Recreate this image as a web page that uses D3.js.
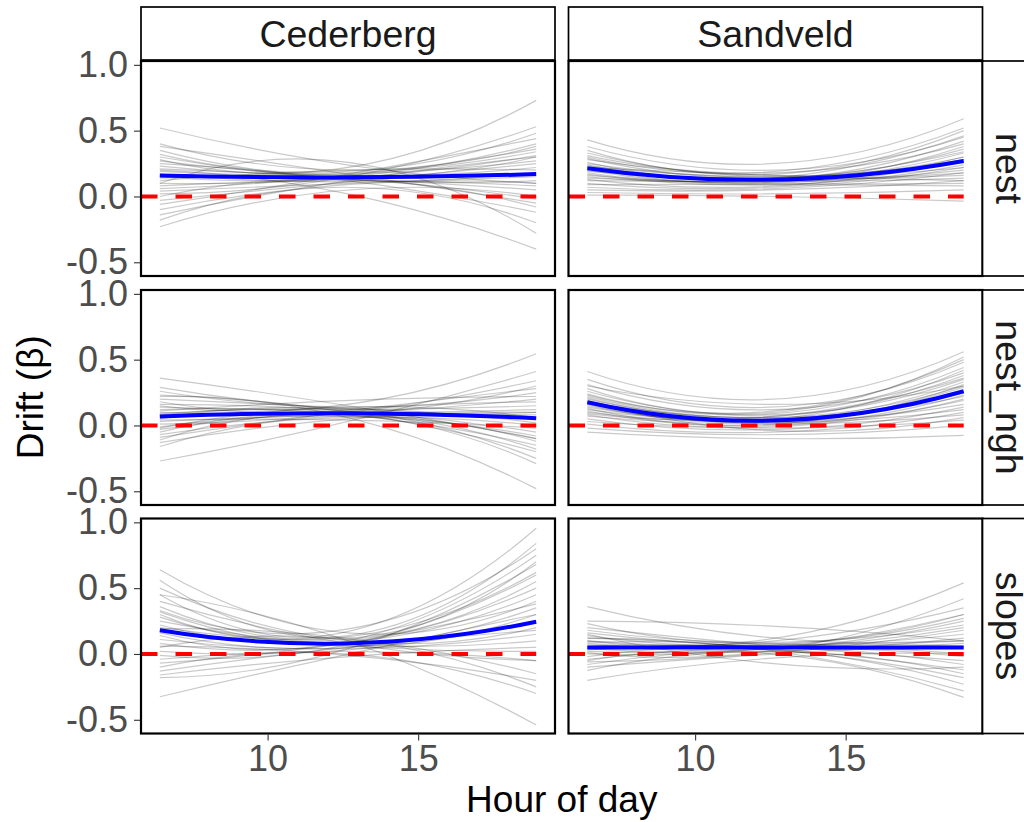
<!DOCTYPE html>
<html lang="en">
<head>
<meta charset="utf-8">
<title>Drift by hour of day</title>
<script src="https://d3js.org/d3.v7.min.js"></script>
<style type="text/css">
	body { margin: 0; background: #fff; }
	svg text { font-family: "Liberation Sans", Arial, sans-serif; }
	.axis path { display: none; }
	.axis line { stroke: #333; stroke-width: 1.1; }
	.axis text { fill: #4d4d4d; font-size: 36px; }
</style>
</head>
<body>
<script type="text/javascript">
// Facet categories
var sites = ["Cederberg", "Sandveld"];
var layers = ["nest", "nest_ngh", "slopes"];

// Hours covered by the curves (first and last)
var hourRange = [6.42, 18.92];

// Axis ticks
var xTicks = [10, 15];
var yTicks = [-0.5, 0, 0.5, 1.0];
var yTickLabels = ["-0.5", "0.0", "0.5", "1.0"];
var yRange = [-0.53, 0.955];

// Reference line
var refValue = 0;

// Mean curve per panel: [start, midday, end] (row-major: layer, then site)
var meanCurves = [
	[0.16, 0.145, 0.17],   // nest / Cederberg
	[0.215, 0.128, 0.27],  // nest / Sandveld
	[0.068, 0.093, 0.055], // nest_ngh / Cederberg
	[0.176, 0.038, 0.26],  // nest_ngh / Sandveld
	[0.18, 0.08, 0.245],   // slopes / Cederberg
	[0.05, 0.05, 0.05]     // slopes / Sandveld
];

// Posterior draws per panel: [start, midday, end]
var drawsCedNest = [
	[0.52, 0.24, 0.10], [0.40, 0.20, 0.38], [0.38, 0.17, -0.05], [0.35, 0.15, 0.30],
	[0.32, 0.19, 0.48], [0.30, 0.13, 0.12], [0.27, 0.16, 0.22], [0.25, 0.12, -0.12],
	[0.23, 0.18, 0.34], [0.21, 0.14, 0.05], [0.19, 0.17, 0.27], [0.17, 0.11, 0.18],
	[0.15, 0.15, 0.40], [0.14, 0.13, -0.02], [0.12, 0.20, 0.20], [0.10, 0.14, 0.31],
	[0.08, 0.12, 0.08], [0.06, 0.16, 0.36], [0.04, 0.10, 0.15], [0.02, 0.15, 0.53],
	[0.00, 0.13, -0.08], [-0.03, 0.11, 0.25], [-0.06, 0.17, 0.44], [-0.10, 0.09, 0.10],
	[-0.14, 0.12, 0.30], [-0.18, 0.07, -0.20], [-0.23, 0.05, 0.00], [0.28, 0.22, 0.73],
	[0.20, 0.02, -0.40], [0.10, 0.26, -0.28]
];
var drawsSanNest = [
	[0.43, 0.25, 0.59], [0.38, 0.20, 0.45], [0.35, 0.17, 0.50], [0.33, 0.15, 0.30],
	[0.31, 0.18, 0.40], [0.29, 0.14, 0.36], [0.28, 0.16, 0.22], [0.26, 0.13, 0.42],
	[0.25, 0.15, 0.28], [0.24, 0.12, 0.33], [0.23, 0.14, 0.18], [0.22, 0.11, 0.38],
	[0.21, 0.13, 0.26], [0.20, 0.10, 0.30], [0.19, 0.12, 0.14], [0.18, 0.14, 0.46],
	[0.17, 0.09, 0.24], [0.16, 0.11, 0.20], [0.15, 0.13, 0.34], [0.14, 0.10, 0.10],
	[0.13, 0.08, 0.28], [0.12, 0.12, 0.16], [0.10, 0.07, 0.22], [0.09, 0.09, 0.08],
	[0.07, 0.06, 0.18], [0.05, 0.05, 0.12], [0.03, 0.02, 0.05], [0.01, 0.00, -0.035],
	[0.30, 0.19, 0.52], [0.22, 0.16, 0.12]
];
var drawsCedNgh = [
	[0.36, 0.15, -0.10], [0.29, 0.12, 0.10], [0.26, 0.14, 0.25], [0.23, 0.10, -0.20],
	[0.20, 0.13, 0.05], [0.18, 0.09, 0.30], [0.16, 0.11, -0.05], [0.14, 0.12, 0.15],
	[0.12, 0.08, -0.15], [0.10, 0.10, 0.20], [0.08, 0.13, 0.02], [0.07, 0.09, 0.12],
	[0.05, 0.11, -0.25], [0.03, 0.08, 0.08], [0.01, 0.10, 0.34], [-0.01, 0.07, -0.08],
	[-0.03, 0.12, 0.18], [-0.05, 0.09, -0.18], [-0.07, 0.06, 0.00], [-0.09, 0.11, 0.28],
	[-0.11, 0.08, -0.29], [-0.13, 0.05, 0.10], [-0.16, 0.07, -0.12], [-0.27, 0.03, 0.41],
	[0.15, 0.16, 0.545], [0.22, 0.06, -0.48], [0.11, 0.19, 0.22], [0.04, 0.04, -0.02],
	[-0.02, 0.14, 0.06], [0.09, 0.10, -0.10]
];
var drawsSanNgh = [
	[0.41, 0.20, 0.56], [0.35, 0.14, 0.48], [0.31, 0.12, 0.40], [0.28, 0.10, 0.52],
	[0.26, 0.08, 0.35], [0.24, 0.09, 0.44], [0.22, 0.06, 0.30], [0.21, 0.07, 0.38],
	[0.20, 0.05, 0.26], [0.19, 0.04, 0.33], [0.18, 0.06, 0.22], [0.17, 0.03, 0.29],
	[0.16, 0.05, 0.42], [0.15, 0.02, 0.19], [0.14, 0.04, 0.25], [0.13, 0.01, 0.31],
	[0.12, 0.03, 0.16], [0.11, 0.00, 0.23], [0.10, 0.02, 0.12], [0.08, -0.01, 0.20],
	[0.07, 0.01, 0.08], [0.05, -0.03, 0.14], [0.03, -0.02, 0.04], [0.01, -0.05, 0.10],
	[-0.02, -0.07, 0.00], [-0.05, -0.10, -0.075], [0.30, 0.16, 0.30], [0.23, 0.11, 0.50],
	[0.09, 0.07, 0.36], [0.18, -0.04, 0.06]
];
var drawsCedSlopes = [
	[0.64, 0.16, 0.40], [0.56, 0.12, 0.70], [0.50, 0.10, 0.20], [0.45, 0.14, 0.84],
	[0.40, 0.08, -0.05], [0.36, 0.11, 0.55], [0.32, 0.06, 0.30], [0.28, 0.13, 0.62],
	[0.25, 0.07, 0.10], [0.22, 0.09, 0.45], [0.19, 0.12, -0.15], [0.16, 0.05, 0.35],
	[0.14, 0.10, 0.75], [0.11, 0.04, 0.15], [0.08, 0.08, 0.50], [0.05, 0.11, -0.25],
	[0.02, 0.03, 0.25], [-0.01, 0.07, 0.60], [-0.04, 0.02, -0.05], [-0.07, 0.09, 0.38],
	[-0.10, 0.00, -0.30], [-0.13, 0.05, 0.18], [-0.16, -0.02, 0.05], [-0.18, 0.04, 0.68],
	[0.30, 0.17, 0.955], [-0.325, 0.00, 0.30], [0.45, 0.10, -0.54], [0.33, 0.19, 0.80],
	[0.06, -0.01, -0.20], [0.20, 0.06, 0.02]
];
var drawsSanSlopes = [
	[0.36, 0.12, 0.10], [0.23, 0.08, 0.30], [0.20, 0.06, -0.05], [0.18, 0.09, 0.22],
	[0.16, 0.05, 0.05], [0.14, 0.07, 0.27], [0.12, 0.04, -0.12], [0.10, 0.06, 0.15],
	[0.09, 0.08, 0.00], [0.08, 0.05, 0.20], [0.06, 0.03, -0.18], [0.05, 0.07, 0.10],
	[0.04, 0.04, 0.25], [0.03, 0.06, -0.08], [0.02, 0.02, 0.12], [0.00, 0.05, 0.30],
	[-0.02, 0.03, -0.23], [-0.04, 0.06, 0.06], [-0.06, 0.01, 0.18], [-0.08, 0.04, -0.02],
	[-0.10, 0.00, 0.08], [-0.125, 0.02, -0.15], [-0.20, -0.03, 0.00], [0.25, 0.21, 0.10],
	[0.15, -0.075, -0.10], [0.10, 0.12, 0.54], [0.01, 0.03, 0.42], [-0.05, 0.00, -0.33],
	[0.07, 0.10, 0.35], [0.12, 0.02, -0.28]
];
var panelDraws = [drawsCedNest, drawsSanNest, drawsCedNgh, drawsSanNgh, drawsCedSlopes, drawsSanSlopes];

// Layout
var width = 1024, height = 822;
var colX = [141, 568.5], panelW = 414;
var rowY = [61, 290, 518.5], panelH = 215;
var stripTop = 7, stripSize = 54;

var svg = d3.select("body")
	.append("svg")
	.attr("width", width)
	.attr("height", height);

svg.append("rect").attr("width", width).attr("height", height).attr("fill", "#fff");

// Scales with the 5% padding ggplot adds
var hSpan = hourRange[1] - hourRange[0];
var xScale = d3.scaleLinear()
	.domain([hourRange[0] - 0.05 * hSpan, hourRange[1] + 0.05 * hSpan])
	.range([0, panelW]);
var ySpan = yRange[1] - yRange[0];
var yScale = d3.scaleLinear()
	.domain([yRange[0] - 0.05 * ySpan, yRange[1] + 0.05 * ySpan])
	.range([panelH, 0]);

var hourMid = (hourRange[0] + hourRange[1]) / 2;

// A quadratic curve through start, midday and end values
function curvePath(v) {
	var ctrl = 2 * v[1] - (v[0] + v[2]) / 2;
	var p = d3.path();
	p.moveTo(xScale(hourRange[0]), yScale(v[0]));
	p.quadraticCurveTo(xScale(hourMid), yScale(ctrl), xScale(hourRange[1]), yScale(v[2]));
	return p.toString();
}

layers.forEach(function(layer, r) {
	sites.forEach(function(site, c) {
		var k = r * sites.length + c;
		var g = svg.append("g")
			.attr("transform", "translate(" + colX[c] + "," + rowY[r] + ")");

		g.append("clipPath").attr("id", "clip" + k)
			.append("rect").attr("width", panelW).attr("height", panelH);

		var plot = g.append("g").attr("clip-path", "url(#clip" + k + ")");

		plot.selectAll("path.draw")
			.data(panelDraws[k])
			.enter()
			.append("path")
			.attr("class", "draw")
			.attr("d", curvePath)
			.attr("fill", "none")
			.attr("stroke", "#000")
			.attr("stroke-opacity", 0.21)
			.attr("stroke-width", 1.2);

		plot.append("path")
			.attr("d", curvePath(meanCurves[k]))
			.attr("fill", "none")
			.attr("stroke", "#0000ff")
			.attr("stroke-width", 4);

		plot.append("line")
			.attr("x1", 0)
			.attr("x2", xScale(hourRange[1]))
			.attr("y1", yScale(refValue))
			.attr("y2", yScale(refValue))
			.attr("stroke", "#ff0000")
			.attr("stroke-width", 4)
			.attr("stroke-dasharray", "16.5,18");

		// Panel border
		g.append("rect")
			.attr("width", panelW)
			.attr("height", panelH)
			.attr("fill", "none")
			.attr("stroke", "#000")
			.attr("stroke-width", 2.2);

		// Y axis on the first column
		if (c === 0) {
			g.append("g")
				.attr("class", "axis")
				.attr("transform", "translate(-1,0)")
				.call(d3.axisLeft(yScale)
					.tickValues(yTicks)
					.tickSize(6)
					.tickPadding(6)
					.tickFormat(function(d, i) { return yTickLabels[i]; }));
		}

		// X axis on the last row
		if (r === layers.length - 1) {
			g.append("g")
				.attr("class", "axis")
				.attr("transform", "translate(0," + (panelH + 1) + ")")
				.call(d3.axisBottom(xScale)
					.tickValues(xTicks)
					.tickSize(6)
					.tickPadding(5)
					.tickFormat(d3.format("d")));
		}
	});

	// Row strip on the right
	var rs = svg.append("g")
		.attr("transform", "translate(" + (colX[1] + panelW) + "," + rowY[r] + ")");
	rs.append("rect")
		.attr("width", stripSize)
		.attr("height", panelH)
		.attr("fill", "#fff")
		.attr("stroke", "#000")
		.attr("stroke-width", 1.7);
	rs.append("text")
		.attr("transform", "translate(13," + (panelH / 2) + ") rotate(90)")
		.attr("text-anchor", "middle")
		.style("font-size", "37.5px")
		.style("fill", "#1a1a1a")
		.text(layer);
});

// Column strips on top
sites.forEach(function(site, c) {
	var cs = svg.append("g")
		.attr("transform", "translate(" + colX[c] + "," + stripTop + ")");
	cs.append("rect")
		.attr("width", panelW)
		.attr("height", rowY[0] - 1 - stripTop)
		.attr("fill", "#fff")
		.attr("stroke", "#000")
		.attr("stroke-width", 1.7);
	cs.append("text")
		.attr("x", panelW / 2)
		.attr("y", 40)
		.attr("text-anchor", "middle")
		.style("font-size", "37.5px")
		.style("fill", "#1a1a1a")
		.text(site);
});

// Axis titles
svg.append("text")
	.attr("x", (colX[0] + colX[1] + panelW) / 2)
	.attr("y", 812)
	.attr("text-anchor", "middle")
	.style("font-size", "37px")
	.style("fill", "#000")
	.text("Hour of day");

svg.append("text")
	.attr("transform", "translate(43," + (rowY[0] + (rowY[2] + panelH - rowY[0]) / 2) + ") rotate(-90)")
	.attr("text-anchor", "middle")
	.style("font-size", "37px")
	.style("fill", "#000")
	.text("Drift (β)");
</script>
</body>
</html>
